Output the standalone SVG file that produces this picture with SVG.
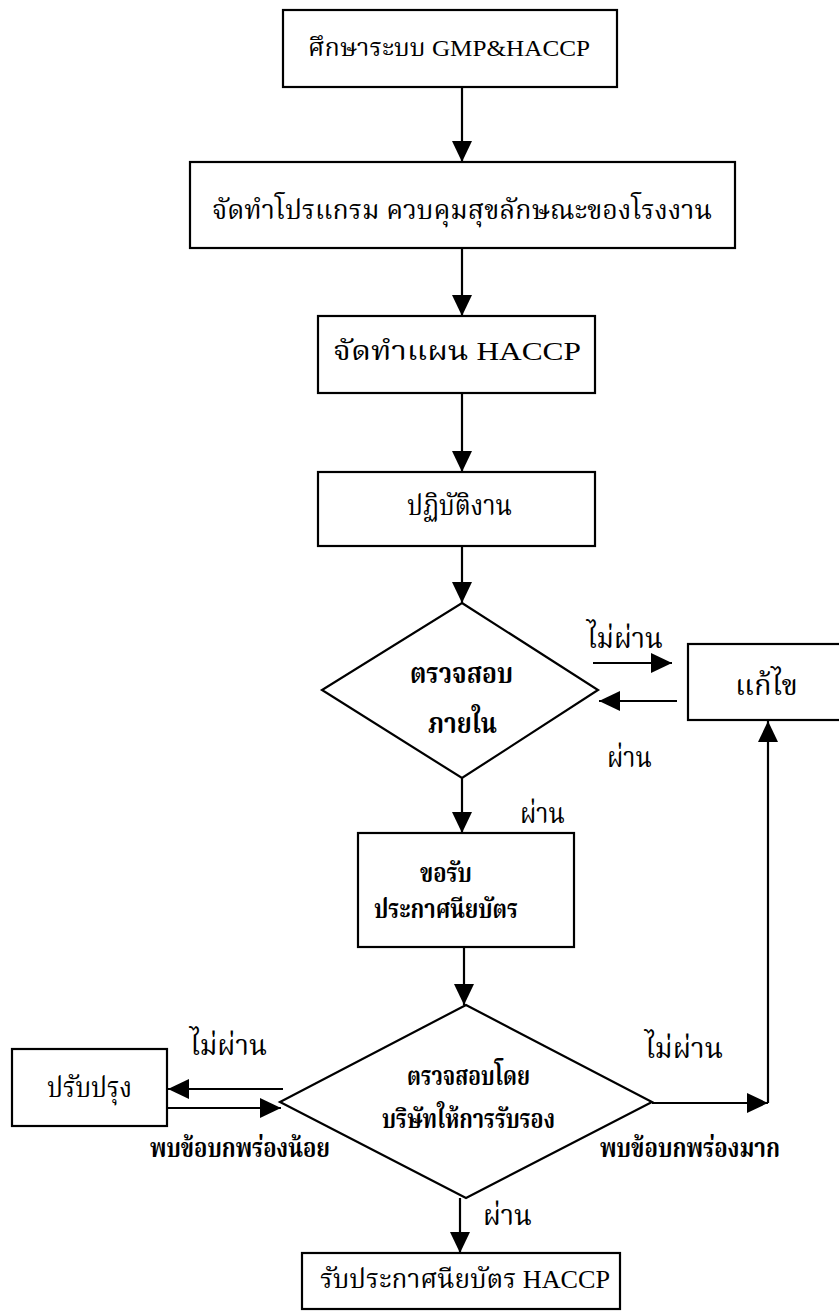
<svg xmlns="http://www.w3.org/2000/svg" width="839" height="1312" viewBox="0 0 839 1312">
<style>
.box{fill:#fff;stroke:#000;stroke-width:2.2}
.ln{fill:none;stroke:#000;stroke-width:2.2}
.t{font-family:"Liberation Serif","Noto Serif Thai","Noto Sans Thai","Loma","Garuda","DejaVu Sans",serif;fill:#000;font-size:24px}
.m{font-size:26px}
.l{font-size:28px}
.b{font-weight:bold}
</style>
<defs>
<marker id="ah" markerUnits="userSpaceOnUse" markerWidth="22" markerHeight="20" refX="21" refY="10" orient="auto">
<path d="M0,0 L21,10 L0,20 z" fill="#000"/>
</marker>
</defs>
<rect width="839" height="1312" fill="#fff"/>
<g id="connectors">
<path class="ln" d="M462,87 V162" marker-end="url(#ah)"/>
<path class="ln" d="M462,248 V316" marker-end="url(#ah)"/>
<path class="ln" d="M462,393 V472" marker-end="url(#ah)"/>
<path class="ln" d="M462,546 V603" marker-end="url(#ah)"/>
<path class="ln" d="M462,778 V833" marker-end="url(#ah)"/>
<path class="ln" d="M464,947 V1005" marker-end="url(#ah)"/>
<path class="ln" d="M460,1198 V1253" marker-end="url(#ah)"/>
<path class="ln" d="M593,663 H672" marker-end="url(#ah)"/>
<path class="ln" d="M677,701 H599" marker-end="url(#ah)"/>
<path class="ln" d="M283,1089 H168" marker-end="url(#ah)"/>
<path class="ln" d="M168,1108 H281" marker-end="url(#ah)"/>
<path class="ln" d="M652,1103 H768" marker-end="url(#ah)"/>
<path class="ln" d="M768,1103 V721" marker-end="url(#ah)"/>
</g>
<g id="n1"><rect class="box" x="283" y="10" width="334" height="77"/>
<text class="t" x="308" y="56" textLength="282" lengthAdjust="spacingAndGlyphs">ศึกษาระบบ GMP&amp;HACCP</text></g>
<g id="n2"><rect class="box" x="190" y="162" width="545" height="86"/>
<text class="t m" x="212" y="219" textLength="500" lengthAdjust="spacingAndGlyphs">จัดทำโปรแกรม ควบคุมสุขลักษณะของโรงงาน</text></g>
<g id="n3"><rect class="box" x="318" y="316" width="277" height="77"/>
<text class="t m" x="333" y="360" textLength="248" lengthAdjust="spacingAndGlyphs">จัดทำแผน HACCP</text></g>
<g id="n4"><rect class="box" x="318" y="472" width="277" height="74"/>
<text class="t l" x="407" y="515" textLength="105" lengthAdjust="spacingAndGlyphs">ปฏิบัติงาน</text></g>
<g id="d1"><path class="box" d="M462,603 L598,690 L462,778 L322,690 Z"/>
<text class="t l b" x="410" y="683" textLength="103" lengthAdjust="spacingAndGlyphs">ตรวจสอบ</text>
<text class="t l b" x="428" y="733" textLength="69" lengthAdjust="spacingAndGlyphs">ภายใน</text></g>
<g id="fix"><rect class="box" x="688" y="644" width="160" height="76"/>
<text class="t l" x="735" y="695" textLength="63" lengthAdjust="spacingAndGlyphs">แก้ไข</text></g>
<g id="n5"><rect class="box" x="358" y="833" width="216" height="114"/>
<text class="t m b" x="420" y="882" textLength="52" lengthAdjust="spacingAndGlyphs">ขอรับ</text>
<text class="t m b" x="374" y="918" textLength="144" lengthAdjust="spacingAndGlyphs">ประกาศนียบัตร</text></g>
<g id="d2"><path class="box" d="M466,1005 L652,1102 L466,1198 L280,1102 Z"/>
<text class="t m b" x="407" y="1085" textLength="123" lengthAdjust="spacingAndGlyphs">ตรวจสอบโดย</text>
<text class="t m b" x="382" y="1128" textLength="173" lengthAdjust="spacingAndGlyphs">บริษัทให้การรับรอง</text></g>
<g id="improve"><rect class="box" x="12" y="1049" width="155" height="77"/>
<text class="t l" x="47" y="1097" textLength="85" lengthAdjust="spacingAndGlyphs">ปรับปรุง</text></g>
<g id="n6"><rect class="box" x="302" y="1253" width="318" height="56"/>
<text class="t m" x="320" y="1288" textLength="290" lengthAdjust="spacingAndGlyphs">รับประกาศนียบัตร HACCP</text></g>
<g id="labels">
<text class="t l" x="587" y="648" textLength="76" lengthAdjust="spacingAndGlyphs">ไม่ผ่าน</text>
<text class="t l" x="607" y="767" textLength="45" lengthAdjust="spacingAndGlyphs">ผ่าน</text>
<text class="t l" x="520" y="823" textLength="45" lengthAdjust="spacingAndGlyphs">ผ่าน</text>
<text class="t l" x="190" y="1055" textLength="77" lengthAdjust="spacingAndGlyphs">ไม่ผ่าน</text>
<text class="t l" x="645" y="1058" textLength="78" lengthAdjust="spacingAndGlyphs">ไม่ผ่าน</text>
<text class="t m b" x="150" y="1157" textLength="180" lengthAdjust="spacingAndGlyphs">พบข้อบกพร่องน้อย</text>
<text class="t m b" x="600" y="1157" textLength="180" lengthAdjust="spacingAndGlyphs">พบข้อบกพร่องมาก</text>
<text class="t l" x="483" y="1225" textLength="49" lengthAdjust="spacingAndGlyphs">ผ่าน</text>
</g>
</svg>
